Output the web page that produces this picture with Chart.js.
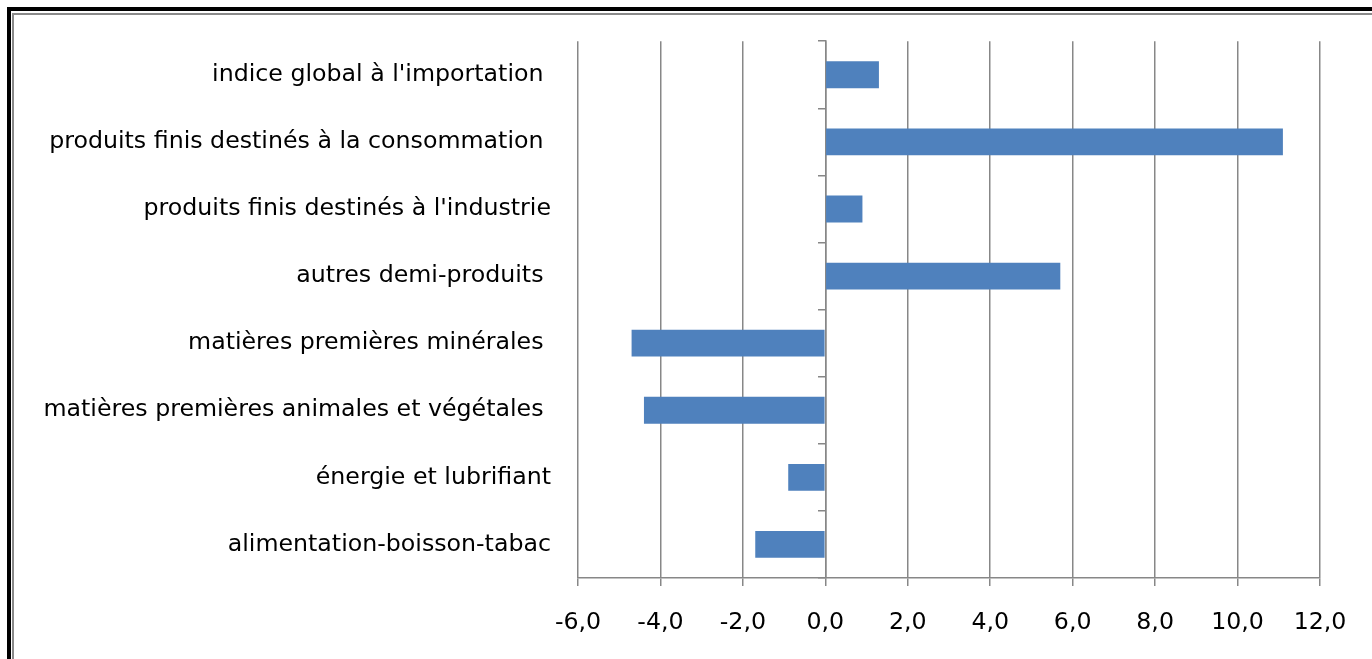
<!DOCTYPE html>
<html lang="fr">
<head>
<meta charset="utf-8">
<title>Indices à l'importation</title>
<script src="https://cdn.jsdelivr.net/npm/chart.js@4.4.1/dist/chart.umd.min.js"></script>
<style>
    html, body {
        margin: 0;
        padding: 0;
        background: #ffffff;
        overflow: hidden;
    }
    #frame {
        position: absolute;
        left: 0;
        top: 0;
        width: 1372px;
        height: 659px;
    }
    .outer-line {
        position: absolute;
        left: 7px;
        top: 7px;
        width: 1400px;
        height: 700px;
        border-left: 4px solid #000000;
        border-top: 4px solid #000000;
    }
    .inner-line {
        position: absolute;
        left: 12px;
        top: 13px;
        width: 1400px;
        height: 700px;
        border-left: 2px solid #8a8a8a;
        border-top: 2px solid #8a8a8a;
    }
    #chartBox {
        position: absolute;
        left: 0;
        top: 0;
        width: 1372px;
        height: 659px;
    }
</style>
</head>
<body>
<div id="frame">
    <div class="outer-line"></div>
    <div class="inner-line"></div>
    <div id="chartBox"><canvas id="importChart"></canvas></div>
</div>
<script>
const categories = [
    "indice global à l'importation ",
    "produits finis destinés à la consommation ",
    "produits finis destinés à l'industrie",
    "autres demi-produits ",
    "matières premières minérales ",
    "matières premières animales et végétales ",
    "énergie et lubrifiant",
    "alimentation-boisson-tabac"
];
const variations = [1.3, 11.1, 0.9, 5.7, -4.7, -4.4, -0.9, -1.7];
const xTickValues = [-6, -4, -2, 0, 2, 4, 6, 8, 10, 12];

const gridGray = "#878787";
const barBlue = "#4f81bd";
const labelFont = { family: "'DejaVu Sans'", size: 23.7 };

function formatTick(value) {
    return Number(value).toFixed(1).replace(".", ",");
}

const ctx = document.getElementById("importChart").getContext("2d");

new Chart(ctx, {
    type: "bar",
    data: {
        labels: categories,
        datasets: [{
            data: variations,
            backgroundColor: barBlue,
            borderWidth: 0,
            barPercentage: 0.4,
            categoryPercentage: 1.0
        }]
    },
    options: {
        indexAxis: "y",
        responsive: true,
        maintainAspectRatio: false,
        animation: false,
        layout: {
            padding: { top: 41, right: 52, bottom: 0, left: 0 }
        },
        plugins: {
            legend: { display: false },
            tooltip: { enabled: false }
        },
        scales: {
            x: {
                type: "linear",
                min: xTickValues[0],
                max: xTickValues[xTickValues.length - 1],
                afterBuildTicks(scale) {
                    scale.ticks = xTickValues.map((v) => ({ value: v }));
                },
                afterFit(scale) {
                    scale.height = 81;
                },
                grid: {
                    color: gridGray,
                    lineWidth: 1.5,
                    drawTicks: true,
                    tickLength: 8,
                    tickColor: gridGray
                },
                border: {
                    display: true,
                    color: gridGray,
                    width: 1.5
                },
                ticks: {
                    color: "#000000",
                    padding: 23,
                    maxRotation: 0,
                    font: labelFont,
                    callback(value) {
                        return formatTick(value);
                    }
                }
            },
            y: {
                type: "category",
                position: "left",
                afterFit(scale) {
                    scale.width = 578;
                },
                grid: { display: false, drawTicks: false },
                border: { display: false },
                ticks: {
                    color: "#000000",
                    padding: 27,
                    autoSkip: false,
                    font: labelFont
                }
            },
            y2: {
                type: "category",
                position: { x: 0 },
                offset: true,
                grid: {
                    offset: true,
                    drawOnChartArea: false,
                    drawTicks: true,
                    tickLength: 7,
                    color: gridGray,
                    lineWidth: 1.5
                },
                border: {
                    display: true,
                    color: gridGray,
                    width: 1.5
                },
                ticks: { display: false }
            }
        }
    }
});
</script>
</body>
</html>
